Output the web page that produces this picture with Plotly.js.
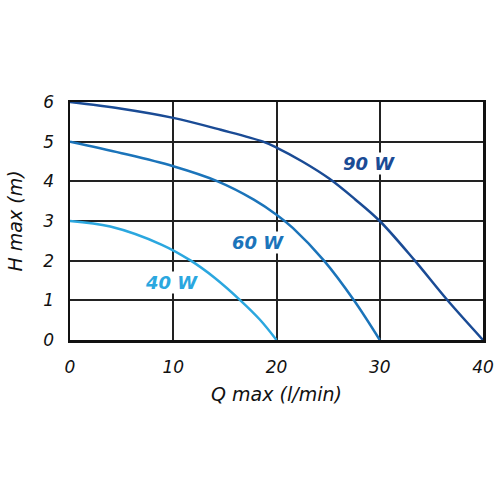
<!DOCTYPE html>
<html>
<head>
<meta charset="utf-8">
<script src="https://cdn.plot.ly/plotly-3.0.1.min.js"></script>
<style>
  body { margin: 0; background: #fff; }
  #chart { width: 500px; height: 500px; }
</style>
</head>
<body>
<div id="chart"></div>
<script>
// Pump curves: flow Q (l/min) against head H (m)
let q90 = [0, 5, 10, 14.6, 18.7, 20, 22.5, 25.1, 27.6, 30, 33.4, 36.5, 40];
let h90 = [6, 5.83, 5.6, 5.3, 5.0, 4.85, 4.5, 4.07, 3.55, 3.0, 2.0, 1.02, 0];

let q60 = [0, 5, 10, 14.3, 17.8, 20, 21.6, 24.6, 27.5, 30];
let h60 = [5, 4.71, 4.38, 4.0, 3.54, 3.16, 2.82, 2.0, 1.0, 0];

let q40 = [0, 3.9, 8.9, 11.7, 14, 16.5, 18.4, 20];
let h40 = [3, 2.86, 2.4, 2.0, 1.57, 1.0, 0.51, 0];

let names = ['90 W', '60 W', '40 W'];
let colors = ['#1a4b95', '#1b74ba', '#2ba7df'];
let labelQ = [29.0, 18.2, 9.8];
let labelH = [4.46, 2.47, 1.46];

let xTicks = [0, 10, 20, 30, 40];
let yTicks = [0, 1, 2, 3, 4, 5, 6];

// Build one line per curve
let qs = [q90, q60, q40];
let hs = [h90, h60, h40];
let plotData = qs.map(function (q, i) {
  return {
    x: q, y: hs[i], name: names[i],
    type: 'scatter', mode: 'lines',
    line: { color: colors[i], width: 2.5, shape: 'spline', smoothing: 1 }
  };
});

// Curve labels sit in white boxes over the grid
let annotations = names.map(function (n, i) {
  return {
    x: labelQ[i], y: labelH[i], text: n, showarrow: false,
    bgcolor: '#ffffff', borderpad: 0,
    font: { family: 'DejaVu Sans', size: 18, color: colors[i], weight: 'bold', style: 'italic' }
  };
});

let tickFont = { family: 'DejaVu Sans', size: 17, color: '#111', style: 'italic' };
let titleFont = { family: 'DejaVu Sans', size: 19, color: '#111', style: 'italic' };

let layout = {
  width: 500, height: 500,
  margin: { l: 70, r: 17, t: 102, b: 160 },
  paper_bgcolor: '#fff', plot_bgcolor: '#fff',
  showlegend: false,
  xaxis: {
    range: [0, 40], tickvals: xTicks, ticks: '', ticklabelstandoff: 10,
    tickfont: tickFont,
    showgrid: true, gridcolor: '#222', gridwidth: 2,
    zeroline: false, showline: true, linecolor: '#111', linewidth: 2.5, mirror: true,
    title: { text: 'Q max (l/min)', font: titleFont, standoff: 12 }
  },
  yaxis: {
    range: [0, 6], tickvals: yTicks, ticks: '', ticklabelstandoff: 10,
    tickfont: tickFont,
    showgrid: true, gridcolor: '#222', gridwidth: 2,
    zeroline: false, showline: true, linecolor: '#111', linewidth: 2.5, mirror: true,
    title: { text: 'H max (m)', font: titleFont, standoff: 16 }
  },
  annotations: annotations
};

Plotly.newPlot('chart', plotData, layout, { staticPlot: true });
</script>
</body>
</html>
